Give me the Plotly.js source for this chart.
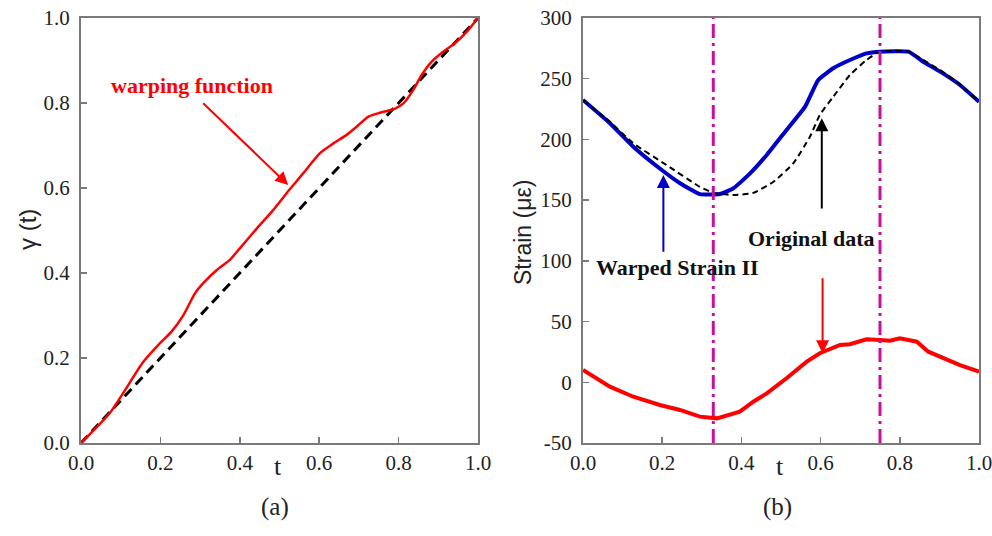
<!DOCTYPE html>
<html><head><meta charset="utf-8">
<script src="https://cdn.plot.ly/plotly-3.0.1.min.js"></script>
<style>html,body{margin:0;padding:0;background:#fff}#chart{width:992px;height:536px}</style>
</head><body><div id="chart"></div>
<script>
// (a) warping function
const tWarp = [0,0.073,0.157,0.195,0.228,0.258,0.287,0.308,0.342,0.375,0.400,0.443,0.484,0.526,0.560,0.602,0.636,0.669,0.694,0.724,0.753,0.791,0.812,0.837,0.858,0.883,0.913,0.942,0.972,1.0];
const gammaWarp = [0,0.071,0.191,0.231,0.262,0.301,0.352,0.376,0.407,0.431,0.458,0.505,0.548,0.597,0.635,0.682,0.705,0.725,0.744,0.768,0.777,0.787,0.799,0.831,0.866,0.897,0.921,0.941,0.968,1.0];
const tIdentity = [0,1];
const gammaIdentity = [0,1];

// (b) strain curves
const tBlue = [0,0.068,0.127,0.199,0.245,0.295,0.346,0.380,0.422,0.464,0.514,0.561,0.594,0.632,0.674,0.716,0.75,0.822,0.859,0.902,0.952,1.0];
const strainWarped = [232.5,213.3,194,174.8,163.9,155,155,159.8,172,187.2,207.8,227,248.9,258.6,265.4,270.9,272.3,272.3,264,255.8,244.8,231];
const tOrig = [0,0.068,0.127,0.211,0.295,0.329,0.38,0.43,0.481,0.531,0.573,0.598,0.632,0.674,0.716,0.75,0.822,0.859,0.902,0.952,1.0];
const strainOrig = [232.5,214.5,196.8,178.9,161,156.1,154.2,156,165.2,180.3,202.2,220.1,235.2,253,265.4,272.3,272.3,265.5,257,245.5,231];
const tRed = [0,0.068,0.127,0.194,0.245,0.295,0.338,0.396,0.430,0.464,0.514,0.565,0.598,0.649,0.674,0.716,0.75,0.775,0.80,0.843,0.872,0.91,0.952,1.0];
const strainRed = [10.1,-3.6,-11.9,-18.7,-22.8,-28.3,-29.7,-24.2,-16,-9.1,3.3,17,23.9,30.7,31.3,35.4,34.8,34.2,36.2,33.4,25.2,19.8,14.2,8.7];
const markerT = [0.329,0.75];
const strainRange = [-50,300];

const xTicks = [0,0.2,0.4,0.6,0.8,1.0];
const xTickText = ["0.0","0.2","0.4","0.6","0.8","1.0"];
const yTicksA = [0,0.2,0.4,0.6,0.8,1.0];
const yTickTextA = ["0.0","0.2","0.4","0.6","0.8","1.0"];
const yTicksB = [-50,0,50,100,150,200,250,300];
const yTickTextB = ["-50","0","50","100","150","200","250","300"];

const serif = "Liberation Serif";
const sans = "Liberation Sans";
const magenta = "#C8109E";

const traces = [
  {x:tIdentity, y:gammaIdentity, xaxis:'x', yaxis:'y', mode:'lines', line:{color:'#000', width:3, dash:'10px,6px'}},
  {x:tWarp, y:gammaWarp, xaxis:'x', yaxis:'y', mode:'lines', line:{color:'#FF0000', width:2.5, shape:'spline', smoothing:0.6}},
  {x:tBlue, y:strainWarped, xaxis:'x2', yaxis:'y2', mode:'lines', line:{color:'#0000C8', width:4, shape:'spline', smoothing:0.4}},
  {x:tOrig, y:strainOrig, xaxis:'x2', yaxis:'y2', mode:'lines', line:{color:'#000', width:2, dash:'6px,4px', shape:'spline', smoothing:0.5}},
  {x:tRed, y:strainRed, xaxis:'x2', yaxis:'y2', mode:'lines', line:{color:'#FF0000', width:4}},
  {x:[markerT[0],markerT[0]], y:strainRange, xaxis:'x2', yaxis:'y2', mode:'lines', line:{color:magenta, width:3, dash:'14px,5px,3px,5px'}},
  {x:[markerT[1],markerT[1]], y:strainRange, xaxis:'x2', yaxis:'y2', mode:'lines', line:{color:magenta, width:3, dash:'14px,5px,3px,5px'}}
];

const axisCommon = {
  showgrid:false, zeroline:false, showline:true, linecolor:'#7a7a7a', linewidth:2, mirror:true,
  ticks:'inside', ticklen:6, tickcolor:'#7a7a7a', tickwidth:1.5, ticklabeloverflow:'allow',
  tickfont:{family:serif, size:21, color:'#222'}
};

function ann(x, y, text, font, extra) {
  return Object.assign({xref:'paper', yref:'paper', x:x/992, y:1-y/536, text:text, showarrow:false,
    xanchor:'center', yanchor:'middle', font:font}, extra || {});
}

const layout = {
  width:992, height:536, margin:{l:0,r:0,t:0,b:0},
  paper_bgcolor:'#fff', plot_bgcolor:'#fff', showlegend:false,
  font:{family:serif},
  xaxis: Object.assign({}, axisCommon, {domain:[81/992,478/992], range:[0,1], tickvals:xTicks, ticktext:xTickText, anchor:'y'}),
  yaxis: Object.assign({}, axisCommon, {domain:[1-443/536,1-18/536], range:[0,1], tickvals:yTicksA, ticktext:yTickTextA, anchor:'x', ticklabelstandoff:5}),
  xaxis2: Object.assign({}, axisCommon, {domain:[583/992,979/992], range:[0,1], tickvals:xTicks, ticktext:xTickText, anchor:'y2'}),
  yaxis2: Object.assign({}, axisCommon, {domain:[1-443/536,1-18/536], range:strainRange, tickvals:yTicksB, ticktext:yTickTextB, anchor:'x2', ticklabelstandoff:5}),
  annotations:[
    ann(27, 230, 'γ (t)', {family:sans, size:24, color:'#222'}, {textangle:-90}),
    ann(523, 233, 'Strain (με)', {family:sans, size:23, color:'#222'}, {textangle:-90}),
    ann(278, 466, 't', {family:serif, size:26, color:'#222'}),
    ann(780, 466, 't', {family:serif, size:26, color:'#222'}),
    ann(275, 507, '(a)', {family:serif, size:25, color:'#222'}),
    ann(777, 507, '(b)', {family:serif, size:25, color:'#222'}),
    {xref:'x', yref:'y', x:0.28, y:0.842, xanchor:'center', yanchor:'middle', text:'<b>warping function</b>', showarrow:false, font:{family:serif, size:22, color:'#FF0000'}},
    {xref:'x', yref:'y', x:0.522, y:0.607, ax:0.304, ay:0.803, axref:'x', ayref:'y', text:'', showarrow:true, arrowhead:2, arrowsize:1.3, arrowwidth:2, arrowcolor:'#FF0000'},
    ann(677, 267, '<b>Warped Strain II</b>', {family:serif, size:22, color:'#111'}),
    {xref:'x2', yref:'y2', x:0.203, y:170.7, ax:0.203, ay:106.2, axref:'x2', ayref:'y2', text:'', showarrow:true, arrowhead:2, arrowsize:1.3, arrowwidth:2, arrowcolor:'#0000C8'},
    ann(811, 239, '<b>Original data</b>', {family:serif, size:22, color:'#111'}),
    {xref:'x2', yref:'y2', x:0.603, y:217.4, ax:0.603, ay:141.9, axref:'x2', ayref:'y2', text:'', showarrow:true, arrowhead:2, arrowsize:1.3, arrowwidth:2, arrowcolor:'#000'},
    {xref:'x2', yref:'y2', x:0.605, y:23.9, ax:0.605, ay:87, axref:'x2', ayref:'y2', text:'', showarrow:true, arrowhead:2, arrowsize:1.3, arrowwidth:2, arrowcolor:'#FF0000'}
  ]
};

Plotly.newPlot('chart', traces, layout, {displayModeBar:false, staticPlot:true});
</script>
</body></html>
